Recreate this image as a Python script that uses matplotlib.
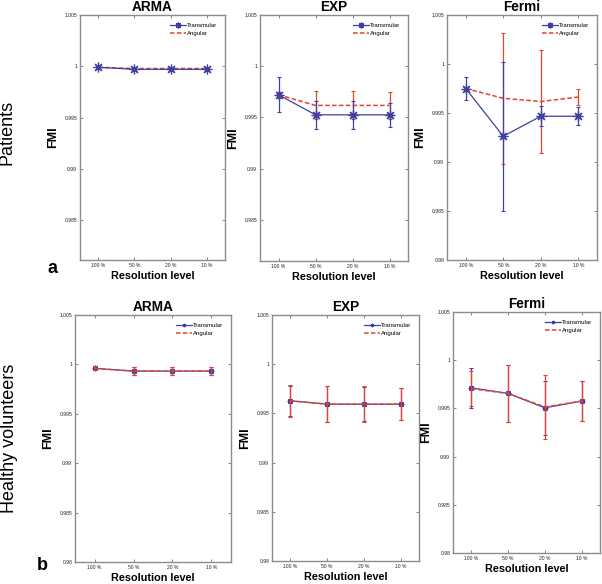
import matplotlib
matplotlib.use("Agg")
import matplotlib.pyplot as plt

plt.rcParams["font.family"] = ["Liberation Sans", "DejaVu Sans"]

# x categories / panels
levels = ["100 %", "50 %", "20 %", "10 %"]
models = ["ARMA", "EXP", "Fermi"]

# Patients (row a)
pat_arma_trans = [0.9999, 0.99970, 0.99970, 0.99970]
pat_arma_trans_err = [0.00005, 0.00005, 0.00005, 0.00005]
pat_arma_ang = [0.9999, 0.99978, 0.99978, 0.99978]
pat_arma_ang_err = [0.00004, 0.00004, 0.00004, 0.00004]

pat_exp_trans = [0.99722, 0.99526, 0.99526, 0.99526]
pat_exp_trans_err = [0.0017, 0.00135, 0.00135, 0.0012]
pat_exp_ang = [0.99722, 0.99618, 0.99618, 0.99618]
pat_exp_ang_err = [0.0003, 0.00137, 0.00137, 0.0013]

pat_fermi_trans = [0.9975, 0.99263, 0.99467, 0.99467]
pat_fermi_trans_err = [0.0012, 0.0076, 0.0010, 0.0009]
pat_fermi_ang = [0.9975, 0.9965, 0.99617, 0.99663]
pat_fermi_ang_err = [0.0002, 0.0067, 0.0053, 0.0008]

# Healthy volunteers (row b)
hv_arma_trans = [0.9996, 0.99932, 0.99932, 0.99932]
hv_arma_trans_err = [0.0002, 0.0004, 0.0004, 0.0004]
hv_arma_ang = [0.9996, 0.99932, 0.99932, 0.99932]
hv_arma_ang_err = [0.0002, 0.0004, 0.0004, 0.0004]

hv_exp_trans = [0.99628, 0.99594, 0.99594, 0.99594]
hv_exp_trans_err = [0.0015, 0.0018, 0.0017, 0.0016]
hv_exp_ang = [0.99628, 0.99594, 0.99594, 0.99594]
hv_exp_ang_err = [0.0016, 0.0018, 0.0018, 0.0016]

hv_fermi_trans = [0.99713, 0.99655, 0.99506, 0.99576]
hv_fermi_trans_err = [0.0021, 0.0030, 0.0028, 0.0021]
hv_fermi_ang = [0.99705, 0.99655, 0.99515, 0.99576]
hv_fermi_ang_err = [0.0018, 0.0030, 0.0033, 0.0021]

rows = [
    [(pat_arma_trans, pat_arma_trans_err, pat_arma_ang, pat_arma_ang_err),
     (pat_exp_trans, pat_exp_trans_err, pat_exp_ang, pat_exp_ang_err),
     (pat_fermi_trans, pat_fermi_trans_err, pat_fermi_ang, pat_fermi_ang_err)],
    [(hv_arma_trans, hv_arma_trans_err, hv_arma_ang, hv_arma_ang_err),
     (hv_exp_trans, hv_exp_trans_err, hv_exp_ang, hv_exp_ang_err),
     (hv_fermi_trans, hv_fermi_trans_err, hv_fermi_ang, hv_fermi_ang_err)],
]

W, H = 602, 584
# axes boxes in pixels: left, top, right, bottom
boxes = [
    [(80, 15, 225, 260), (260, 15, 408, 261), (447, 15, 597, 260)],
    [(75, 315, 231, 562), (272, 315, 419, 561), (453, 312, 600, 553)],
]
ylow = [[0.9811, 0.981, 0.98], [0.98, 0.98, 0.98]]

BLUE = "#4040a0"
RED = "#e5432c"
GREY = "#8c8c8c"
STAR = (8, 2, 0)   # matlab-like asterisk

fig = plt.figure(figsize=(W / 100, H / 100), dpi=100)
x = list(range(1, len(levels) + 1))

for r in range(2):
    for c in range(3):
        l, t, rr, b = boxes[r][c]
        ax = fig.add_axes([l / W, 1 - b / H, (rr - l) / W, (b - t) / H])
        tr, tr_e, an, an_e = rows[r][c]
        ms = 7 if r == 0 else 4
        z_tr, z_an = (3, 2) if r == 0 else (2, 3)
        ax.errorbar(x, tr, yerr=tr_e, fmt="none", ecolor=BLUE, elinewidth=0.9,
                    capsize=1.5, capthick=0.8, zorder=z_tr)
        ax.errorbar(x, an, yerr=an_e, fmt="none", ecolor=RED, elinewidth=0.9,
                    capsize=1.5, capthick=0.8, zorder=z_an)
        ax.plot(x, tr, color=BLUE, lw=0.9, marker=STAR, ms=ms, mew=0.9,
                zorder=z_tr, label="Transmular")
        ax.plot(x, an, color=RED, lw=1.1, ls="--", dashes=(3, 1.5),
                zorder=z_an, label="Angular")
        ax.set_xlim(0.5, 4.5)
        ax.set_ylim(ylow[r][c], 1.005)
        yt = [v for v in [0.98, 0.985, 0.99, 0.995, 1.0, 1.005] if v >= ylow[r][c] - 1e-9]
        ax.set_yticks(yt)
        ax.set_yticklabels([("%g" % v) for v in yt])
        ax.set_xticks(x)
        ax.set_xticklabels(levels)
        ax.tick_params(direction="in", length=2.5, width=0.5, color="#555555",
                       labelsize=3.6, pad=2, top=True, right=True,
                       labelcolor="#222222")
        for s in ax.spines.values():
            s.set_color(GREY)
            s.set_linewidth(1.0)
        ax.set_title(models[c], fontsize=9.8, fontweight="bold", pad=3)
        ax.set_ylabel("FMI", fontsize=9, fontweight="bold")
        ax.yaxis.set_label_coords(-21 / (rr - l), 0.5)
        ax.set_xlabel("Resolution level", fontsize=7.8, fontweight="bold", labelpad=2)
        ax.legend(loc="upper right", frameon=False, fontsize=4.3,
                  handlelength=2.6, handletextpad=0.2, labelspacing=0.45,
                  borderaxespad=0.9, markerscale=0.6)

fig.text(7.5 / W, 1 - 132 / H, "Patients", rotation=90, fontsize=13,
         ha="center", va="center")
fig.text(10 / W, 1 - 438 / H, "Healthy volunteers", rotation=90, fontsize=13,
         ha="center", va="center")
fig.text(52 / W, 1 - 268 / H, "a", fontsize=13, fontweight="bold",
         ha="center", va="center")
fig.text(42 / W, 1 - 565 / H, "b", fontsize=13, fontweight="bold",
         ha="center", va="center")

fig.savefig("out.png", dpi=100, facecolor="white")
